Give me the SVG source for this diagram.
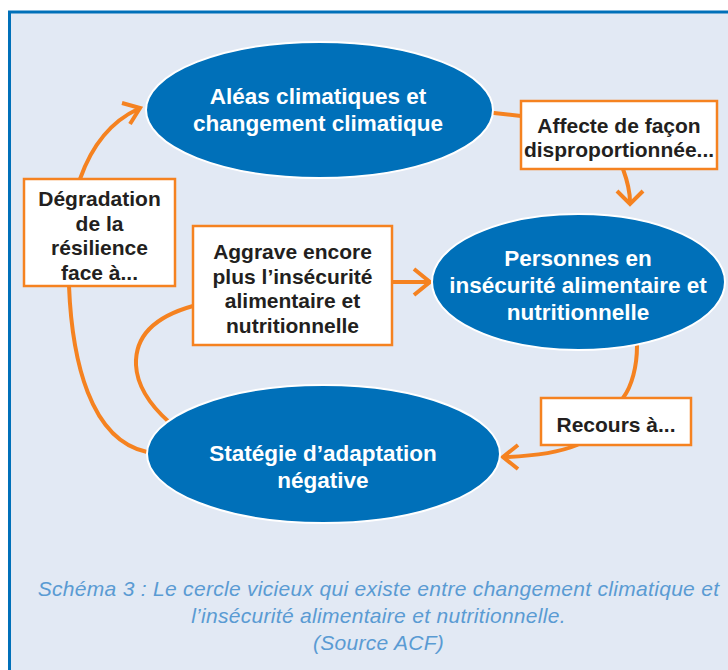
<svg xmlns="http://www.w3.org/2000/svg" width="728" height="670" viewBox="0 0 728 670">
  <defs>
    <style>
      .node { fill: #0070b9; stroke: #ffffff; stroke-width: 2; }
      .node-text { font-family: "Liberation Sans", Arial, sans-serif; font-weight: bold; font-size: 22.5px; fill: #ffffff; text-anchor: middle; }
      .label-box { fill: #ffffff; stroke: #f58220; stroke-width: 2.5; }
      .label-text { font-family: "Liberation Sans", Arial, sans-serif; font-weight: bold; font-size: 21px; fill: #231f20; text-anchor: middle; }
      .link { fill: none; stroke: #f58220; stroke-width: 4; stroke-linecap: round; }
      .head { fill: none; stroke: #f58220; stroke-width: 4; stroke-linecap: butt; stroke-linejoin: miter; }
      .caption { font-family: "Liberation Sans", Arial, sans-serif; font-style: italic; font-size: 21px; letter-spacing: 0.3px; fill: #5a9bd3; text-anchor: middle; }
    </style>
  </defs>

  <!-- page and frame -->
  <rect x="0" y="0" width="728" height="670" fill="#ffffff"/>
  <rect x="9.5" y="12" width="740" height="680" fill="#e2e9f4" stroke="#0070b9" stroke-width="3"/>

  <!-- connectors -->
  <g id="connectors">
    <!-- Aléas -> Affecte box -->
    <path class="link" d="M494,113 L521,116"/>
    <!-- Affecte box -> Personnes -->
    <path class="link" d="M623,169 C627,180 630,190 630,202"/>
    <path class="head" d="M617,191 L630,204 L643,191"/>
    <!-- Personnes -> Recours box -->
    <path class="link" d="M637,346 C637,366 632,386 623,398"/>
    <!-- Recours box -> Stratégie -->
    <path class="link" d="M577,445 C560,452 535,456 505,457"/>
    <path class="head" d="M518,445 L503,457 L518,469"/>
    <!-- Stratégie -> Aggrave box -->
    <path class="link" d="M169,422 C150,405 137,385 136,365 C135,340 150,318 193,306"/>
    <!-- Aggrave box -> Personnes -->
    <path class="link" d="M392,282 L428,282"/>
    <path class="head" d="M414,269 L430,282 L414,295"/>
    <!-- Stratégie -> Dégradation box -->
    <path class="link" d="M147,452 C90,440 72,360 69,286"/>
    <!-- Dégradation box -> Aléas -->
    <path class="link" d="M80,179 C92,145 110,122 138,109"/>
    <path class="head" d="M122,103 L140,108 L130,124"/>
  </g>

  <!-- main nodes -->
  <g id="node-aleas">
    <ellipse class="node" cx="319.5" cy="110" rx="173.5" ry="68"/>
    <text class="node-text" x="318" y="104">Aléas climatiques et</text>
    <text class="node-text" x="318" y="131">changement climatique</text>
  </g>

  <g id="node-personnes">
    <ellipse class="node" cx="578.5" cy="282" rx="146.5" ry="68"/>
    <text class="node-text" x="578" y="266">Personnes en</text>
    <text class="node-text" x="578" y="293">insécurité alimentaire et</text>
    <text class="node-text" x="578" y="320">nutritionnelle</text>
  </g>

  <g id="node-strategie">
    <ellipse class="node" cx="323.5" cy="454" rx="176.5" ry="69"/>
    <text class="node-text" x="323" y="461">Statégie d’adaptation</text>
    <text class="node-text" x="323" y="488">négative</text>
  </g>

  <!-- label boxes -->
  <g id="label-affecte">
    <rect class="label-box" x="521" y="101" width="196" height="68"/>
    <text class="label-text" x="619" y="133">Affecte de façon</text>
    <text class="label-text" x="619" y="157">disproportionnée...</text>
  </g>

  <g id="label-degradation">
    <rect class="label-box" x="24" y="179" width="151" height="107"/>
    <text class="label-text" x="99.5" y="206">Dégradation</text>
    <text class="label-text" x="99.5" y="231">de la</text>
    <text class="label-text" x="99.5" y="255">résilience</text>
    <text class="label-text" x="99.5" y="280">face à...</text>
  </g>

  <g id="label-aggrave">
    <rect class="label-box" x="193" y="226" width="199" height="119"/>
    <text class="label-text" x="292.5" y="259">Aggrave encore</text>
    <text class="label-text" x="292.5" y="284">plus l’insécurité</text>
    <text class="label-text" x="292.5" y="308">alimentaire et</text>
    <text class="label-text" x="292.5" y="333">nutritionnelle</text>
  </g>

  <g id="label-recours">
    <rect class="label-box" x="541" y="398" width="150" height="47"/>
    <text class="label-text" x="616" y="432">Recours à...</text>
  </g>

  <!-- caption -->
  <g id="caption">
    <text class="caption" x="378.5" y="596">Schéma 3 : Le cercle vicieux qui existe entre changement climatique et</text>
    <text class="caption" x="378.5" y="623">l’insécurité alimentaire et nutritionnelle.</text>
    <text class="caption" x="378.5" y="650">(Source ACF)</text>
  </g>
</svg>
